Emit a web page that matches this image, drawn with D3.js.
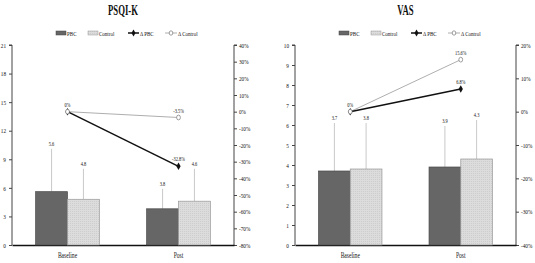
<!DOCTYPE html>
<html>
<head>
<meta charset="utf-8">
<script src="https://cdn.jsdelivr.net/npm/d3@7"></script>
<style>
body { margin: 0; background: #fff; }
text { font-family: "Liberation Serif", "Times New Roman", serif; fill: #111; }
</style>
</head>
<body>
<svg id="chart" width="535" height="263"></svg>
<script>
var categories = ["Baseline", "Post"];

// PSQI-K
var psqiPBC = [5.6, 3.8];
var psqiPBCsd = [4.5, 2.1];
var psqiControl = [4.8, 4.6];
var psqiControlSd = [3.2, 3.4];
var psqiDeltaPBC = [0, -32.8];
var psqiDeltaControl = [0, -3.5];
var psqiLeftTicks = [0, 3, 6, 9, 12, 15, 18, 21];
var psqiRightTicks = [-80, -70, -60, -50, -40, -30, -20, -10, 0, 10, 20, 30, 40];

// VAS
var vasPBC = [3.7, 3.9];
var vasPBCsd = [2.4, 2.05];
var vasControl = [3.8, 4.3];
var vasControlSd = [2.3, 1.95];
var vasDeltaPBC = [0, 6.8];
var vasDeltaControl = [0, 15.6];
var vasLeftTicks = [0, 1, 2, 3, 4, 5, 6, 7, 8, 9, 10];
var vasRightTicks = [-40, -30, -20, -10, 0, 10, 20];

var svg = d3.select("#chart");

var defs = svg.append("defs");
var pat = defs.append("pattern")
    .attr("id", "dots")
    .attr("width", 2).attr("height", 2)
    .attr("patternUnits", "userSpaceOnUse");
pat.append("rect").attr("width", 2).attr("height", 2).attr("fill", "#dcdcdc");
pat.append("rect").attr("width", 1).attr("height", 1).attr("fill", "#cdcdcd");

// squeeze text horizontally, the original uses a narrow serif
function condense(sel, k) {
    sel.each(function() {
        var t = d3.select(this);
        var tx = +t.attr("x") || 0, ty = +t.attr("y") || 0;
        t.attr("x", 0).attr("y", 0)
         .attr("transform", "translate(" + tx + "," + ty + ") scale(" + k + ",1)");
    });
}

function pctLabel(d) { return d + "%"; }

function drawPanel(o) {
    var width = o.width, height = 200;
    var g = svg.append("g").attr("transform", "translate(" + o.left + ",45)");

    var x0 = d3.scaleBand().domain(categories).range([0, width]);
    var bw = x0.bandwidth();
    var x1 = d3.scaleBand().domain(["PBC", "Control"])
        .range([bw / 2 - bw * 0.287, bw / 2 + bw * 0.287]);
    var y = d3.scaleLinear().domain(o.yDomain).range([height, 0]);
    var y2 = d3.scaleLinear().domain(o.y2Domain).range([height, 0]);

    // title
    svg.append("text")
        .attr("x", o.left + width / 2).attr("y", 15)
        .attr("text-anchor", "middle")
        .style("font-size", "14.5px").style("font-weight", "bold")
        .text(o.title)
        .call(condense, 0.6);

    // legend
    var lg = svg.append("g").attr("transform", "translate(" + o.left + ",33)");
    lg.append("rect").attr("x", 44).attr("y", -2).attr("width", 10).attr("height", 4)
        .attr("fill", "#666").attr("stroke", "#444").attr("stroke-width", 0.5);
    lg.append("text").attr("x", 55).attr("y", 2.5).style("font-size", "7px").text("PBC").call(condense, 0.72);
    lg.append("rect").attr("x", 76).attr("y", -2).attr("width", 10).attr("height", 4)
        .attr("fill", "url(#dots)").attr("stroke", "#999").attr("stroke-width", 0.5);
    lg.append("text").attr("x", 87).attr("y", 2.5).style("font-size", "7px").text("Control").call(condense, 0.72);
    lg.append("line").attr("x1", 116).attr("x2", 127).attr("y1", 0).attr("y2", 0)
        .attr("stroke", "#111").attr("stroke-width", 1.5);
    lg.append("path").attr("d", d3.symbol(d3.symbolDiamond, 14)()).attr("transform", "translate(121.5,0)")
        .attr("fill", "#111");
    lg.append("text").attr("x", 128).attr("y", 2.5).style("font-size", "7px").text("Δ PBC").call(condense, 0.72);
    lg.append("line").attr("x1", 153).attr("x2", 165).attr("y1", 0).attr("y2", 0)
        .attr("stroke", "#999").attr("stroke-width", 0.8);
    lg.append("ellipse").attr("cx", 159).attr("cy", 0).attr("rx", 1.8).attr("ry", 2.2)
        .attr("fill", "#fff").attr("stroke", "#777").attr("stroke-width", 0.7);
    lg.append("text").attr("x", 166).attr("y", 2.5).style("font-size", "7px").text("Δ Control").call(condense, 0.72);

    // axes
    var yAxis = d3.axisLeft(y).tickValues(o.leftTicks).tickSize(3).tickPadding(3);
    var ya = g.append("g").call(yAxis);
    ya.select(".domain").attr("stroke", "#444").attr("d", "M-3,0H0V" + height);
    ya.selectAll(".tick line").attr("stroke", "#444");
    ya.selectAll("text").style("font-size", "7px").style("fill", "#111").call(condense, 0.75);

    var y2Axis = d3.axisRight(y2).tickValues(o.rightTicks).tickFormat(pctLabel).tickSize(3).tickPadding(2);
    var ya2 = g.append("g").attr("transform", "translate(" + width + ",0)").call(y2Axis);
    ya2.select(".domain").attr("stroke", "#444").attr("d", "M3,0H0V" + height);
    ya2.selectAll(".tick line").attr("stroke", "#444");
    ya2.selectAll("text").style("font-size", "7px").style("fill", "#111").call(condense, 0.75);

    var xAxis = d3.axisBottom(x0).tickSize(0).tickPadding(7);
    var xa = g.append("g").attr("transform", "translate(0," + height + ")").call(xAxis);
    xa.select(".domain").attr("stroke", "#111").attr("stroke-width", 1.6);
    xa.selectAll("text").style("font-size", "8px").style("fill", "#111").call(condense, 0.7);

    var rows = categories.map(function(c, i) {
        return [
            {cat: c, key: "PBC", v: o.pbc[i], sd: o.pbcSd[i]},
            {cat: c, key: "Control", v: o.control[i], sd: o.controlSd[i]}
        ];
    });
    var flat = [].concat.apply([], rows);

    // error bars (upper only)
    g.selectAll(".err").data(flat).enter().append("line")
        .attr("class", "err")
        .attr("x1", function(d) { return x0(d.cat) + x1(d.key) + x1.bandwidth() / 2; })
        .attr("x2", function(d) { return x0(d.cat) + x1(d.key) + x1.bandwidth() / 2; })
        .attr("y1", function(d) { return y(d.v); })
        .attr("y2", function(d) { return y(d.v + d.sd); })
        .attr("stroke", "#bbb").attr("stroke-width", 0.8);

    g.selectAll(".bar").data(flat).enter().append("rect")
        .attr("class", "bar")
        .attr("x", function(d) { return x0(d.cat) + x1(d.key); })
        .attr("width", x1.bandwidth())
        .attr("y", function(d) { return y(d.v); })
        .attr("height", function(d) { return height - y(d.v); })
        .attr("fill", function(d) { return d.key == "PBC" ? "#666" : "url(#dots)"; })
        .attr("stroke", function(d) { return d.key == "PBC" ? "#4a4a4a" : "#999"; })
        .attr("stroke-width", 0.7);

    g.selectAll(".vlab").data(flat).enter().append("text")
        .attr("class", "vlab")
        .attr("x", function(d) { return x0(d.cat) + x1(d.key) + x1.bandwidth() / 2; })
        .attr("y", function(d) { return y(d.v + d.sd) - 3; })
        .attr("text-anchor", "middle")
        .style("font-size", "5.5px")
        .text(function(d) { return d.v.toFixed(1); })
        .call(condense, 0.8);

    // delta lines
    var cx = function(d, i) { return x0(categories[i]) + bw / 2; };
    var line = d3.line().x(cx).y(function(d) { return y2(d); });

    g.append("path").datum(o.deltaControl).attr("d", line)
        .attr("fill", "none").attr("stroke", "#999").attr("stroke-width", 0.8);
    g.append("path").datum(o.deltaPBC).attr("d", line)
        .attr("fill", "none").attr("stroke", "#111").attr("stroke-width", 1.5);

    g.selectAll(".dp").data(o.deltaPBC).enter().append("path")
        .attr("class", "dp")
        .attr("d", d3.symbol(d3.symbolDiamond, 16)())
        .attr("transform", function(d, i) { return "translate(" + cx(d, i) + "," + y2(d) + ")"; })
        .attr("fill", "#111");
    g.selectAll(".dc").data(o.deltaControl).enter().append("ellipse")
        .attr("class", "dc")
        .attr("cx", cx).attr("cy", function(d) { return y2(d); })
        .attr("rx", 1.9).attr("ry", 2.4)
        .attr("fill", "#fff").attr("stroke", "#777").attr("stroke-width", 0.7);

    var dl = [];
    o.deltaControl.forEach(function(d, i) { if (i > 0) dl.push({v: d, i: i}); });
    o.deltaPBC.forEach(function(d, i) { if (i > 0) dl.push({v: d, i: i}); });
    dl.push({v: 0, i: 0});
    g.selectAll(".dlab").data(dl).enter().append("text")
        .attr("class", "dlab")
        .attr("x", function(d) { return cx(d.v, d.i); })
        .attr("y", function(d) { return y2(d.v) - 5; })
        .attr("text-anchor", "middle")
        .style("font-size", "5.5px")
        .text(function(d) { return d.v === 0 ? "0%" : d.v.toFixed(1) + "%"; })
        .call(condense, 0.8);
}

drawPanel({
    left: 12, width: 222, title: "PSQI-K",
    yDomain: [0, 21], y2Domain: [-80, 40],
    leftTicks: psqiLeftTicks, rightTicks: psqiRightTicks,
    pbc: psqiPBC, pbcSd: psqiPBCsd, control: psqiControl, controlSd: psqiControlSd,
    deltaPBC: psqiDeltaPBC, deltaControl: psqiDeltaControl
});

drawPanel({
    left: 295, width: 221, title: "VAS",
    yDomain: [0, 10], y2Domain: [-40, 20],
    leftTicks: vasLeftTicks, rightTicks: vasRightTicks,
    pbc: vasPBC, pbcSd: vasPBCsd, control: vasControl, controlSd: vasControlSd,
    deltaPBC: vasDeltaPBC, deltaControl: vasDeltaControl
});
</script>
</body>
</html>
